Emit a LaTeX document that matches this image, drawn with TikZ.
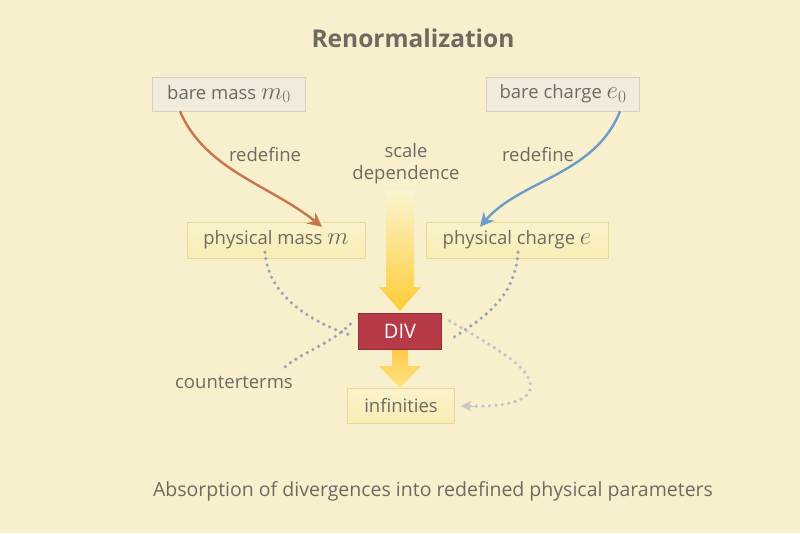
\documentclass[tikz,border=0pt]{standalone}
\usepackage{fontspec}
\setmainfont{Open Sans}
\usetikzlibrary{arrows.meta,shapes.arrows}
\definecolor{bg}{HTML}{F8F0CC}
\definecolor{txt}{HTML}{6E6A62}
\definecolor{bareF}{HTML}{F1EBDD}
\definecolor{bareD}{HTML}{D9CFBE}
\definecolor{physF}{HTML}{F8EDB4}
\definecolor{physD}{HTML}{E9D894}
\definecolor{divF}{HTML}{B63A48}
\definecolor{redA}{HTML}{C8754F}
\definecolor{blueA}{HTML}{6E9CC8}
\definecolor{dotc}{HTML}{9EA2B6}
\newcommand{\mymath}[1]{{\fontsize{24}{24}\selectfont$#1$}}
\begin{document}
\begin{tikzpicture}[x=1pt,y=-1pt,
  every node/.style={font=\fontsize{18.5}{21}\selectfont, text=txt, inner sep=0pt},
  bare/.style={draw=bareD, fill=bareF, minimum height=34pt},
  phys/.style={draw=physD, top color=physF!70!white, bottom color=physF, minimum height=36pt},
  lbl/.style={align=center},
  dotline/.style={dotc, line width=3.6pt, dash pattern=on 0pt off 6.5pt, line cap=round}]
\fill[bg] (0,0) rectangle (800,533);
\useasboundingbox (0,0) rectangle (800,533);
\node (title) at (413,38) {\fontsize{24.5}{28}\selectfont\bfseries Renormalization};
\node[bare, minimum width=153pt] (bm) at (229,94) {bare mass \mymath{m_0}};
\node[bare, minimum width=153pt] (bc) at (563,94) {bare charge \mymath{e_0}};
\node[phys, minimum width=178pt] (pm) at (276,240) {physical mass \mymath{m}};
\node[phys, minimum width=182pt] (pc) at (517,240) {physical charge \mymath{e}};
\node[draw=divF!80!black, fill=divF, minimum width=83pt, minimum height=36pt, text=white] (div) at (400,331) {\fontsize{20}{22}\selectfont DIV};
\node[phys, minimum width=107pt, minimum height=35pt] (inf) at (401,406) {infinities};
\node[lbl] (r1) at (265,155) {redefine};
\node[lbl] (r2) at (538,155) {redefine};
\node[lbl] (sd) at (406,164) {scale\\[1pt]dependence};
\node (ct) at (234,382) {counterterms};
\node (cap) at (433,491) {\fontsize{19.5}{22}\selectfont Absorption of divergences into redefined physical parameters};
% arrows
\draw[redA, line width=2.4pt, -{Stealth[length=14pt,width=14pt]}] ([xshift=-49pt]bm.south) .. controls (205,170) and (270,185) .. ([xshift=46pt,yshift=-5pt]pm.north);
\draw[blueA, line width=2.4pt, -{Stealth[length=14pt,width=14pt]}] ([xshift=57pt]bc.south) .. controls (595,175) and (520,180) .. ([xshift=-37pt,yshift=-5pt]pc.north);
\shade[top color=physF!60!white, bottom color=orange!50!yellow!80] (386,190) -- (414,190) -- (414,287) -- (421,287) -- (400,311) -- (379,287) -- (386,287) -- cycle;
\shade[top color=orange!60!yellow!70, bottom color=orange!40!yellow!50] (392,350) -- (408,350) -- (408,366) -- (421,366) -- (400,388) -- (379,366) -- (392,366) -- cycle;
\draw[dotline] ([xshift=-11pt,yshift=6pt]pm.south) .. controls (268,300) and (320,325) .. ([xshift=-8pt,yshift=-4pt]div.west);
\draw[dotline] ([xshift=1pt,yshift=6pt]pc.south) .. controls (515,300) and (480,320) .. ([xshift=8pt,yshift=-9pt]div.east);
\draw[dotline] ([xshift=-8pt,yshift=7pt]div.west) .. controls (330,345) and (295,355) .. (282,370);
\draw[dotline, dotc!65] ([xshift=8pt,yshift=10pt]div.east) .. controls (500,350) and (535,370) .. (530,390) .. controls (525,405) and (490,407) .. ([xshift=14pt]inf.east);
\draw[dotc!50!bg, -{Stealth[length=11pt,width=11pt]}, line width=1pt] ([xshift=22pt]inf.east) -- ([xshift=6pt]inf.east);
\end{tikzpicture}
\end{document}
